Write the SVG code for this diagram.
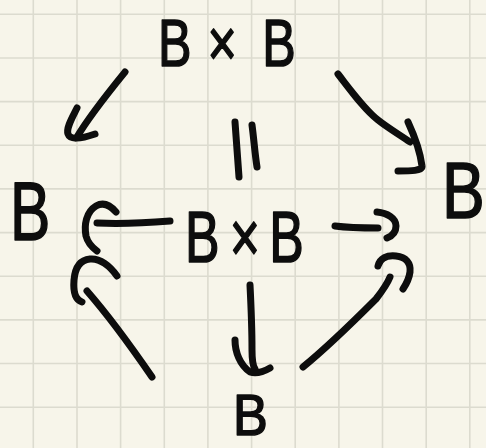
<svg xmlns="http://www.w3.org/2000/svg" width="486" height="448" viewBox="0 0 486 448">
  <defs>
    <style>
      .grid line { stroke: #dcdbcf; stroke-width: 1.6; }
      .ink { fill: none; stroke: #0d0d0d; stroke-width: 7; stroke-linecap: round; stroke-linejoin: round; }
      .lbl { font-family: "Liberation Sans", Arial, sans-serif; fill: #0d0d0d; stroke: #0d0d0d; stroke-width: 1.6; stroke-linejoin: round; }
    </style>
  </defs>

  <!-- paper -->
  <rect width="486" height="448" fill="#f7f5ea"/>
  <g class="grid">
    <line x1="33.3" y1="0" x2="33.3" y2="448"/>
    <line x1="77" y1="0" x2="77" y2="448"/>
    <line x1="120.6" y1="0" x2="120.6" y2="448"/>
    <line x1="164.3" y1="0" x2="164.3" y2="448"/>
    <line x1="207.9" y1="0" x2="207.9" y2="448"/>
    <line x1="251.6" y1="0" x2="251.6" y2="448"/>
    <line x1="295.2" y1="0" x2="295.2" y2="448"/>
    <line x1="338.9" y1="0" x2="338.9" y2="448"/>
    <line x1="382.5" y1="0" x2="382.5" y2="448"/>
    <line x1="426.2" y1="0" x2="426.2" y2="448"/>
    <line x1="469.8" y1="0" x2="469.8" y2="448"/>
    <line x1="0" y1="14.3" x2="486" y2="14.3"/>
    <line x1="0" y1="58" x2="486" y2="58"/>
    <line x1="0" y1="101.6" x2="486" y2="101.6"/>
    <line x1="0" y1="145.3" x2="486" y2="145.3"/>
    <line x1="0" y1="188.9" x2="486" y2="188.9"/>
    <line x1="0" y1="232.6" x2="486" y2="232.6"/>
    <line x1="0" y1="276.2" x2="486" y2="276.2"/>
    <line x1="0" y1="319.9" x2="486" y2="319.9"/>
    <line x1="0" y1="363.5" x2="486" y2="363.5"/>
    <line x1="0" y1="407.2" x2="486" y2="407.2"/>
  </g>

  <!-- objects -->
  <g id="node-top">
    <text class="lbl" font-size="67" transform="translate(158,66) scale(0.75,1)" x="0 66 139">B×B</text>
  </g>
  <g id="node-left">
    <text class="lbl" font-size="84" transform="translate(10,240) scale(0.72,1)">B</text>
  </g>
  <g id="node-right">
    <text class="lbl" font-size="80" transform="translate(442,218) scale(0.8,1)">B</text>
  </g>
  <g id="node-center">
    <text class="lbl" font-size="72" transform="translate(185,262) scale(0.72,1)" x="0 62 117">B×B</text>
  </g>
  <g id="node-bottom">
    <text class="lbl" font-size="58" transform="translate(233,435) scale(0.9,1)">B</text>
  </g>

  <!-- morphisms -->
  <g id="connectors" class="ink">
    <!-- top to left -->
    <path d="M125,72 C112,88 90,115 77,137"/>
    <path d="M77,108 C72,118 66,128 68,134 C70,140 80,139 95,134"/>
    <!-- top to right -->
    <path d="M338,74 C352,92 365,110 378,120 C388,128 400,135 410,142"/>
    <path d="M408,122 C414,135 420,150 422,166 C423,171 410,171 398,171"/>
    <!-- equality between the products -->
    <path d="M235,122 L239,177"/>
    <path d="M252,125 C254,140 255,155 257,167"/>
    <!-- center to left -->
    <path d="M170,221 C145,223 120,224 97,223"/>
    <path d="M116,212 C110,205 103,202 96,206 C86,212 84,225 86,236 C88,244 93,248 97,251"/>
    <!-- center to right -->
    <path d="M335,226 C350,228 365,228 378,228"/>
    <path d="M377,212 C387,213 396,218 396,226 C396,232 392,236 387,238"/>
    <!-- bottom to left -->
    <path d="M152,377 C130,345 108,315 87,291"/>
    <path d="M82,302 C76,300 73,292 74,280 C75,268 80,260 90,259 C100,258 110,266 117,276"/>
    <!-- bottom to right -->
    <path d="M303,367 C330,345 360,315 376,299 C383,290 388,282 390,277"/>
    <path d="M378,266 C380,258 387,255 396,256 C406,257 411,263 410,272 C409,280 405,286 403,289"/>
    <!-- bottom to center -->
    <path d="M250,285 C251,305 252,330 252,350 C252,360 253,366 255,369"/>
    <path d="M235,340 C235,352 240,365 250,372 C256,374 263,372 270,368"/>
  </g>
</svg>
